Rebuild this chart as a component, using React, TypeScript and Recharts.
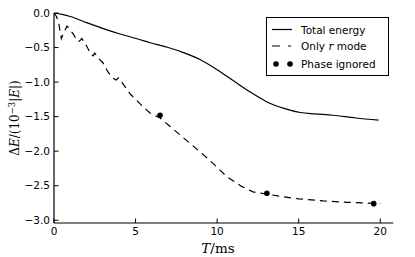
import React from 'react';
import { ComposedChart, Line, XAxis, YAxis, Legend } from 'recharts';

// Total energy
const totalT = [0, 0.5, 1, 2, 3.2, 4, 5.2, 5.9, 7, 7.9, 9, 10, 11, 12, 13, 14.1, 15.1, 16, 17.1, 18.5, 19.9];
const totalE = [0, -0.02, -0.05, -0.14, -0.24, -0.3, -0.38, -0.43, -0.5, -0.57, -0.68, -0.82, -0.98, -1.14, -1.28, -1.38, -1.44, -1.46, -1.48, -1.52, -1.55];

// Only r mode
const rModeT = [0, 0.15, 0.3, 0.45, 0.6, 0.8, 1.0, 1.2, 1.4, 1.55, 1.7, 1.85, 2.05, 2.25, 2.4, 2.5, 2.7, 3.0, 3.3, 3.6, 3.8, 3.95, 4.15, 4.7, 5.3, 5.9, 6.5, 7.1, 8.1, 9.4, 10.6, 11.5, 12.2, 13.0, 14, 15, 16.5, 18, 20];
const rModeE = [0, -0.05, -0.16, -0.37, -0.28, -0.19, -0.25, -0.31, -0.4, -0.41, -0.37, -0.42, -0.5, -0.6, -0.62, -0.58, -0.65, -0.72, -0.85, -0.94, -0.97, -0.94, -1.0, -1.18, -1.32, -1.45, -1.52, -1.64, -1.84, -2.1, -2.37, -2.51, -2.59, -2.62, -2.66, -2.69, -2.72, -2.74, -2.76];

// Phase ignored
const phaseT = [6.5, 13.05, 19.6];
const phaseE = [-1.48, -2.61, -2.76];

const xTicks = [0, 5, 10, 15, 20];
const yTicks = [0, -0.5, -1.0, -1.5, -2.0, -2.5, -3.0];

const totalData = totalT.map((x, i) => ({ x, y: totalE[i] }));
const rModeData = rModeT.map((x, i) => ({ x, y: rModeE[i] }));
const phaseData = phaseT.map((x, i) => ({ x, y: phaseE[i] }));

const fmtY = (v: number) => (v === 0 ? '0.0' : '\u2212' + Math.abs(v).toFixed(1));

const tickFont = { fontSize: 10.5, fill: '#000', fontFamily: 'DejaVu Sans' };
const serif = 'DejaVu Serif';

const LegendBox = () => (
  <svg width={123} height={60} style={{ display: 'block' }}>
    <rect x={0.5} y={0.5} width={122} height={58} fill="#fff" stroke="#000" strokeWidth={1} />
    <line x1={6} x2={26} y1={12.5} y2={12.5} stroke="#000" strokeWidth={1.2} />
    <text x={35} y={16.5} fontSize={10.5} fontFamily="DejaVu Sans" fill="#000">Total energy</text>
    <line x1={6} x2={25} y1={29} y2={29} stroke="#000" strokeWidth={1.2} strokeDasharray="8 8" />
    <text x={35} y={33} fontSize={10.5} fontFamily="DejaVu Sans" fill="#000">
      Only <tspan fontFamily={serif} fontStyle="italic">r</tspan> mode
    </text>
    <circle cx={10} cy={47} r={2.8} fill="#000" />
    <circle cx={24} cy={47} r={2.8} fill="#000" />
    <text x={35} y={51} fontSize={10.5} fontFamily="DejaVu Sans" fill="#000">Phase ignored</text>
  </svg>
);

const XLabel = () => (
  <text x={218} y={252.5} textAnchor="middle" fontSize={13.5} fontFamily={serif} fill="#000">
    <tspan fontStyle="italic">T</tspan>/ms
  </text>
);

const YLabel = () => (
  <text x={19} y={118} textAnchor="middle" fontSize={12} fontFamily={serif} fill="#000" transform="rotate(-90 19 118)">
    Δ<tspan fontStyle="italic">E</tspan>/(10<tspan fontSize={8.5} dy={-4.5}>−3</tspan>
    <tspan dy={4.5}>|</tspan><tspan fontStyle="italic">E</tspan>|)
  </text>
);

export default function App() {
  return (
    <div style={{ position: 'absolute', left: 0, top: 0, width: 415, height: 257, background: '#fff' }}>
      <ComposedChart width={415} height={257} margin={{ top: 13, right: 21.7, bottom: 0, left: 0 }}>
        <XAxis
          xAxisId="b"
          type="number"
          dataKey="x"
          domain={[0, 20.8]}
          allowDataOverflow
          ticks={xTicks}
          height={34}
          tick={tickFont}
          tickSize={-4.5}
          tickMargin={9.5}
          axisLine={{ stroke: '#000', strokeWidth: 1.2 }}
          tickLine={{ stroke: '#000', strokeWidth: 1 }}
          label={() => <XLabel />}
        />
        <XAxis
          xAxisId="t"
          orientation="top"
          type="number"
          dataKey="x"
          domain={[0, 20.8]}
          allowDataOverflow
          ticks={xTicks}
          height={0}
          tick={false}
          tickSize={-4.5}
          axisLine={{ stroke: '#000', strokeWidth: 1.2 }}
          tickLine={{ stroke: '#000', strokeWidth: 1 }}
        />
        <YAxis
          yAxisId="l"
          type="number"
          dataKey="y"
          domain={[-3.04, 0]}
          allowDataOverflow
          ticks={yTicks}
          width={54}
          tick={tickFont}
          tickFormatter={fmtY}
          tickSize={-4.5}
          tickMargin={8.5}
          axisLine={{ stroke: '#000', strokeWidth: 1.2 }}
          tickLine={{ stroke: '#000', strokeWidth: 1 }}
          label={() => <YLabel />}
        />
        <YAxis
          yAxisId="r"
          orientation="right"
          type="number"
          dataKey="y"
          domain={[-3.04, 0]}
          allowDataOverflow
          ticks={yTicks}
          width={0}
          tick={false}
          tickSize={-4.5}
          axisLine={{ stroke: '#000', strokeWidth: 1.2 }}
          tickLine={{ stroke: '#000', strokeWidth: 1 }}
        />
        <Line xAxisId="b" yAxisId="l" data={totalData} dataKey="y" type="monotone" stroke="#000" strokeWidth={1.2} dot={false} isAnimationActive={false} />
        <Line xAxisId="b" yAxisId="l" data={rModeData} dataKey="y" type="linear" stroke="#000" strokeWidth={1.2} strokeDasharray="7 5" dot={false} isAnimationActive={false} />
        <Line xAxisId="b" yAxisId="l" data={phaseData} dataKey="y" type="linear" stroke="none" dot={{ r: 2.8, fill: '#000', stroke: 'none' }} isAnimationActive={false} />
        <Legend
          layout="horizontal"
          verticalAlign="middle"
          align="center"
          content={() => <LegendBox />}
          wrapperStyle={{ position: 'absolute', left: 266, top: 17, width: 123, height: 60 }}
        />
      </ComposedChart>
    </div>
  );
}
